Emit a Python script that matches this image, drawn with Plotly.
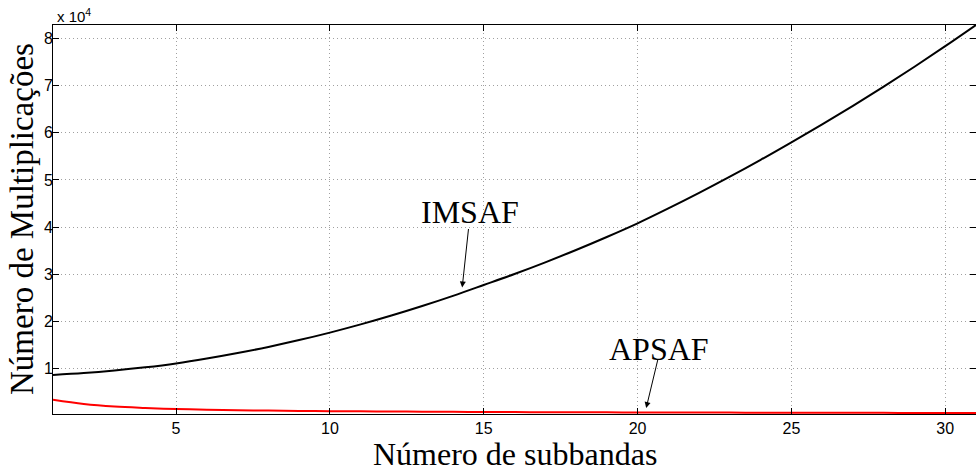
import plotly.graph_objects as go

subbands = list(range(1, 32))
imsaf = [8600, 9000, 9550, 10230, 11060, 12090, 13260, 14560, 16010, 17600,
         19340, 21220, 23240, 25400, 27700, 30040, 32520, 35140, 37900, 40800,
         43960, 47260, 50700, 54280, 58000, 61800, 65740, 69820, 74040, 78400, 82900]
apsaf = [3350, 2450, 1900, 1600, 1380, 1230, 1120, 1040, 980, 930,
         890, 850, 810, 780, 750, 725, 705, 685, 670, 655,
         640, 625, 612, 600, 590, 580, 570, 560, 552, 545, 540]
ytick_vals = [10000, 20000, 30000, 40000, 50000, 60000, 70000, 80000]
ytick_text = ["1", "2", "3", "4", "5", "6", "7", "8"]
xtick_vals = [5, 10, 15, 20, 25, 30]

serif = "Liberation Serif, Times New Roman, serif"
sans = "Liberation Sans, Arial, Helvetica, sans-serif"

fig = go.Figure()
fig.add_trace(go.Scatter(x=subbands, y=imsaf, mode="lines", line_shape="spline",
                         line=dict(color="black", width=2), name="IMSAF"))
fig.add_trace(go.Scatter(x=subbands, y=apsaf, mode="lines", line_shape="spline",
                         line=dict(color="#ff0000", width=2), name="APSAF"))

axis_common = dict(showline=True, linecolor="black", linewidth=1, mirror="ticks",
                   ticks="inside", ticklen=6, tickcolor="black", tickwidth=1,
                   showgrid=True, gridcolor="#a0a0a0", griddash="1px,3px", gridwidth=1,
                   zeroline=False, automargin=False,
                   tickfont=dict(family=sans, size=16, color="black"))

fig.update_xaxes(range=[min(subbands), max(subbands)], tickvals=xtick_vals, **axis_common)
fig.update_yaxes(range=[min(apsaf) - 220, max(imsaf)], tickvals=ytick_vals, ticktext=ytick_text,
                 ticklabelstandoff=-4, **axis_common)

# axis titles (pixel positions converted to paper coords below)
fig.add_annotation(x=0.5, y=454, xref="paper", yref="paper", text="Número de subbandas",
                   showarrow=False, xanchor="center", yanchor="middle",
                   font=dict(family=serif, size=32, color="black"))
fig.add_annotation(x=22, y=219, xref="paper", yref="paper", text="Número de Multiplicações",
                   showarrow=False, xanchor="center", yanchor="middle", textangle=-90,
                   font=dict(family=serif, size=33, color="black"))

# arrows
fig.add_annotation(x=14.30, y=27180, ax=14.51, ay=39910, xref="x", yref="y", axref="x", ayref="y",
                   text="", showarrow=True, arrowhead=2, arrowsize=1.2, arrowwidth=1, arrowcolor="black")
fig.add_annotation(x=20.28, y=1580, ax=20.67, ay=12180, xref="x", yref="y", axref="x", ayref="y",
                   text="", showarrow=True, arrowhead=2, arrowsize=1.2, arrowwidth=1, arrowcolor="black")
# labels
fig.add_annotation(x=14.55, y=43790, xref="x", yref="y", text="IMSAF", showarrow=False,
                   xanchor="center", yanchor="middle", yshift=-3,
                   font=dict(family=serif, size=32, color="black"))
fig.add_annotation(x=20.71, y=14730, xref="x", yref="y", text="APSAF", showarrow=False,
                   xanchor="center", yanchor="middle", yshift=-3,
                   font=dict(family=serif, size=32, color="black"))
fig.add_annotation(x=0.002, y=1.0, xref="paper", yref="paper", xanchor="left", yanchor="bottom",
                   text="x 10<sup>4</sup>", showarrow=False, yshift=-2,
                   font=dict(family=sans, size=15, color="black"))

fig.update_layout(width=976, height=476, margin=dict(l=53, r=0, t=25, b=62),
                  plot_bgcolor="white", paper_bgcolor="white", showlegend=False)

pw = 976 - 53 - 0
ph = 476 - 25 - 62
for ann in fig.layout.annotations[:2]:
    ann.x = (ann.x - 53) / pw if ann.x > 1 else ann.x
    ann.y = (476 - 62 - ann.y) / ph
fig.write_html("out.html", config={"displayModeBar": False},
               post_script="document.body.style.margin='0px';document.body.style.overflow='hidden';")
